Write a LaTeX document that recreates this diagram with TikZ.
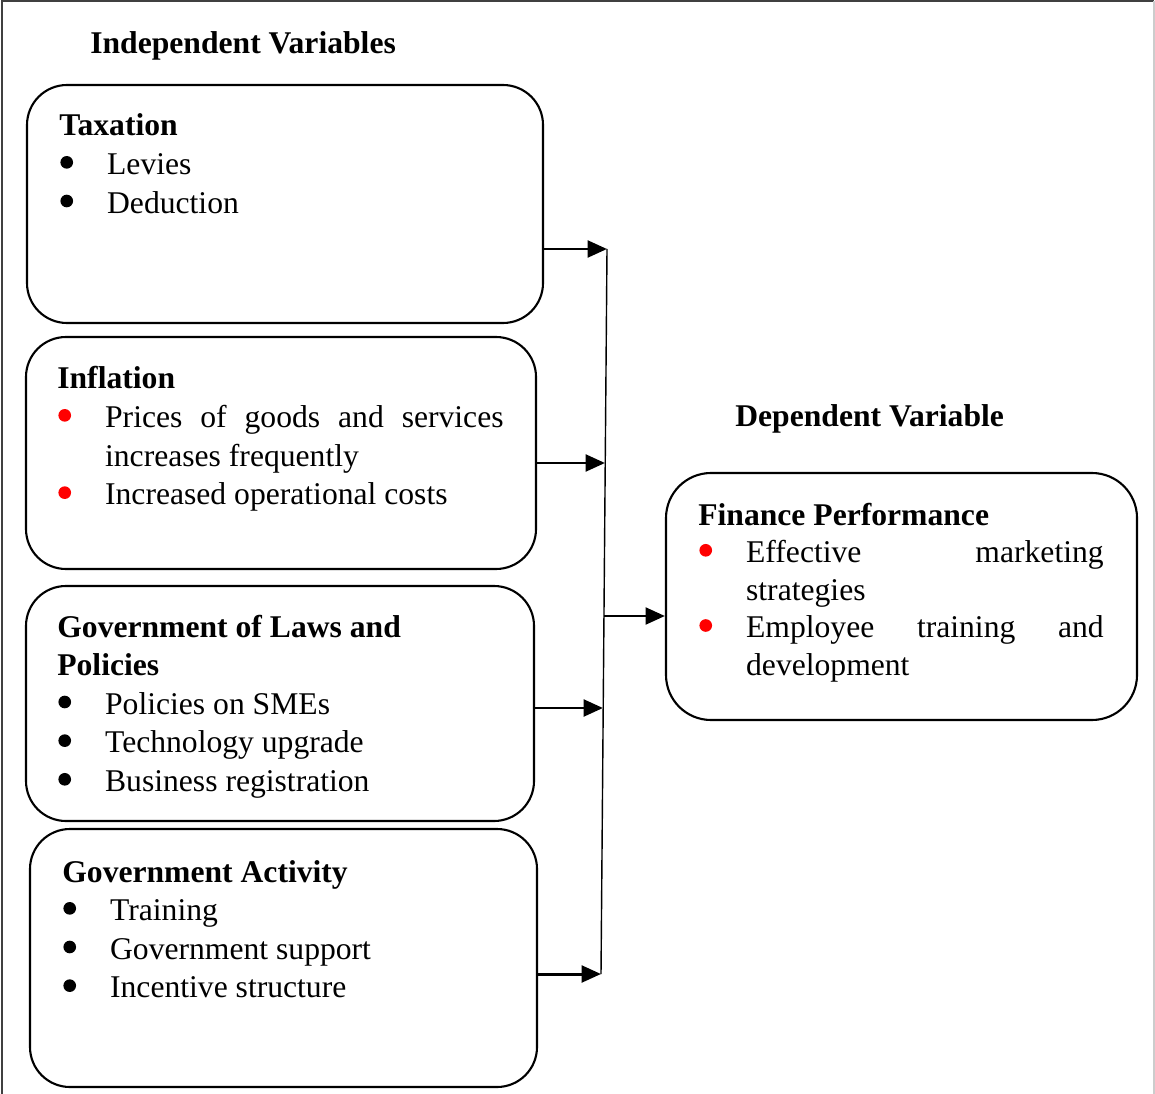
\documentclass[tikz,border=0pt]{standalone}
\usepackage{fontspec}
\setmainfont{Liberation Serif}
\usetikzlibrary{arrows.meta,fit}

% bullet column width and bullet mark
\newlength\bulletcol
\setlength\bulletcol{27.2pt}
\newcommand\dotmark[1]{\tikz[baseline=0pt]\fill[#1] (0pt,7pt) circle (3.6pt);}
\newcommand\bitem[2][black]{\makebox[\bulletcol][l]{\hspace{0.6pt}\dotmark{#1}}#2}
\newcommand\cont[1]{\hspace*{\bulletcol}#1}
\newcommand\boxtext[1]{\begin{tabular}[t]{@{}l@{}}#1\end{tabular}}

\definecolor{bulletred}{RGB}{255,0,0}

\tikzset{
  varbox/.style={draw, line width=1.2pt, rounded corners=0.8cm, inner sep=0pt},
  txt/.style={anchor=base west, inner sep=0pt, font=\fontsize{18pt}{22pt}\selectfont},
  head/.style={anchor=base west, inner sep=0pt, font=\fontsize{18pt}{22pt}\selectfont\bfseries},
  arr/.style={line width=1.7pt, -{Triangle[length=11pt, width=9.5pt]}},
  bus/.style={line width=0.8pt},
}

\begin{document}
\begin{tikzpicture}[x=0.02cm, y=-0.02cm]
\useasboundingbox (0,0) rectangle (1155,1094);

% page frame
\draw[line width=0.8pt, black!75] (2,1094) -- (2,1) -- (1154,1);
\draw[line width=0.8pt, black!20] (1154,1) -- (1154,1094);

% column titles
\node[head] (indep) at (90,54) {Independent Variables};
\node[head] (dep) at (735,426) {Dependent Variable};

% independent variable boxes
\node[varbox, fit={(27,85) (543,323)}] (tax) {};
\node[varbox, fit={(26,337) (536,569)}] (inf) {};
\node[varbox, fit={(26,586) (534,821)}] (law) {};
\node[varbox, fit={(30,829) (537,1087)}] (act) {};

% dependent variable box
\node[varbox, rounded corners=0.9cm, fit={(666,473) (1137,720)}] (fin) {};

% box contents
\node[txt] (taxT) at (59,136) {\boxtext{%
  \textbf{Taxation}\\
  \bitem{Levies}\\
  \bitem{Deduction}}};

\node[txt] (infT) at (57,389) {\boxtext{%
  \textbf{Inflation}\\
  \bitem[bulletred]{\makebox[226.8pt][s]{Prices\hfill of\hfill goods\hfill and\hfill services}}\\
  \cont{increases frequently}\\
  \bitem[bulletred]{Increased operational costs}}};

\node[txt] (lawT) at (57,637) {\boxtext{%
  \textbf{Government of Laws and}\\
  \textbf{Policies}\\
  \bitem{Policies on SMEs}\\
  \bitem{Technology upgrade}\\
  \bitem{Business registration}}};

\node[txt] (actT) at (62,882) {\boxtext{%
  \textbf{Government Activity}\\
  \bitem{Training}\\
  \bitem{Government support}\\
  \bitem{Incentive structure}}};

\node[txt, font=\fontsize{18pt}{21.4pt}\selectfont] (finT) at (698,525) {\boxtext{%
  \textbf{Finance Performance}\\
  \bitem[bulletred]{\makebox[203.5pt][s]{Effective\hfill marketing}}\\
  \cont{strategies}\\
  \bitem[bulletred]{\makebox[203.5pt][s]{Employee\hfill training\hfill and}}\\
  \cont{development}}};

% collecting line
\coordinate (j1) at (607,249);
\coordinate (j2) at (605,463);
\coordinate (j3) at (603,708);
\coordinate (jo) at (604,616);
\coordinate (j4) at (601,974);
\draw[bus] (j1) -- (j4);

% connectors
\draw[arr] (j1 -| tax.east) -- (j1);
\draw[arr] (j2 -| inf.east) -- (j2);
\draw[arr] (j3 -| law.east) -- (j3);
\draw[arr] (j4 -| act.east) -- (j4);
\draw[arr] (jo) -- (jo -| fin.west);
\end{tikzpicture}
\end{document}
